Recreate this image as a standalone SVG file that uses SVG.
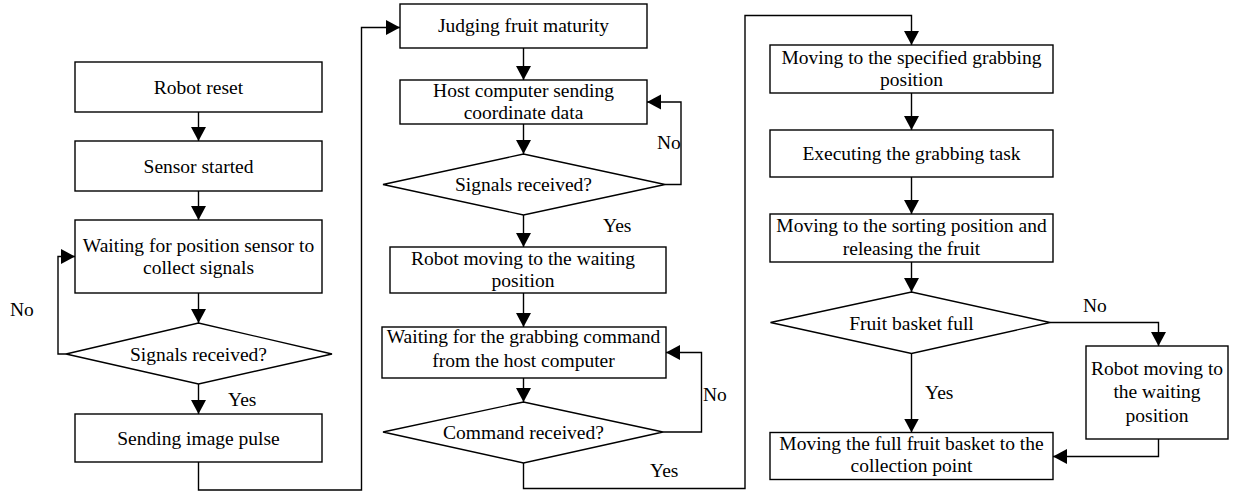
<svg xmlns="http://www.w3.org/2000/svg" width="1237" height="495" viewBox="0 0 1237 495">
  <style>
    .box { fill: #ffffff; stroke: #000000; stroke-width: 1.4; }
    .wire { fill: none; stroke: #000000; stroke-width: 1.4; }
    text { font-family: "Liberation Serif", "Times New Roman", serif; font-size: 19.5px; fill: #000000; }
    .c { text-anchor: middle; }
  </style>
  <defs>
    <marker id="arrow" markerUnits="userSpaceOnUse" markerWidth="15" markerHeight="16" refX="14" refY="7.5" orient="auto">
      <path d="M0,0 L14,7.5 L0,15 z" fill="#000000"/>
    </marker>
  </defs>
  <rect width="1237" height="495" fill="#ffffff"/>

  <!-- connectors -->
  <g id="connectors">
    <!-- left column -->
    <path class="wire" d="M198.5,112 V141" marker-end="url(#arrow)"/>
    <path class="wire" d="M198.5,191 V220" marker-end="url(#arrow)"/>
    <path class="wire" d="M198.5,293 V323" marker-end="url(#arrow)"/>
    <path class="wire" d="M198.5,384 V414" marker-end="url(#arrow)"/>
    <path class="wire" d="M66,354 H58 V256.5 H75" marker-end="url(#arrow)"/>
    <path class="wire" d="M198.5,462 V490 H361.5 V27.5 H400" marker-end="url(#arrow)"/>
    <!-- middle column -->
    <path class="wire" d="M523.5,48 V80" marker-end="url(#arrow)"/>
    <path class="wire" d="M523.5,124 V154" marker-end="url(#arrow)"/>
    <path class="wire" d="M665,184.5 H681 V102 H647" marker-end="url(#arrow)"/>
    <path class="wire" d="M523.5,215 V247" marker-end="url(#arrow)"/>
    <path class="wire" d="M523.5,293 V327" marker-end="url(#arrow)"/>
    <path class="wire" d="M523.5,378 V402" marker-end="url(#arrow)"/>
    <path class="wire" d="M663,432 H701.5 V352.5 H666" marker-end="url(#arrow)"/>
    <path class="wire" d="M523.5,463 V488.5 H745 V15.5 H911.5 V45" marker-end="url(#arrow)"/>
    <!-- right column -->
    <path class="wire" d="M911.5,93 V130" marker-end="url(#arrow)"/>
    <path class="wire" d="M911.5,177 V214" marker-end="url(#arrow)"/>
    <path class="wire" d="M911.5,262 V292" marker-end="url(#arrow)"/>
    <path class="wire" d="M911.5,353.5 V432.5" marker-end="url(#arrow)"/>
    <path class="wire" d="M1050,322.5 H1158.5 V346" marker-end="url(#arrow)"/>
    <path class="wire" d="M1158.5,439 V456.5 H1053" marker-end="url(#arrow)"/>

    <!-- branch labels -->
    <text x="10" y="316">No</text>
    <text x="228" y="406">Yes</text>
    <text x="657" y="149">No</text>
    <text x="603" y="232">Yes</text>
    <text x="703" y="401">No</text>
    <text x="650" y="477">Yes</text>
    <text x="1083" y="312">No</text>
    <text x="925" y="399">Yes</text>
  </g>

  <!-- left column -->
  <g id="robot-reset">
    <rect class="box" x="75" y="62" width="247" height="50"/>
    <text class="c" x="198.5" y="93.5">Robot reset</text>
  </g>
  <g id="sensor-started">
    <rect class="box" x="75" y="141" width="247" height="50"/>
    <text class="c" x="198.5" y="172.5">Sensor started</text>
  </g>
  <g id="wait-position-sensor">
    <rect class="box" x="75" y="220" width="247" height="73"/>
    <text class="c" x="198.5" y="251.5">Waiting for position sensor to</text>
    <text class="c" x="198.5" y="273.5">collect signals</text>
  </g>
  <g id="signals-received-1">
    <polygon class="box" points="66,354 198.5,323 332,354 198.5,384"/>
    <text class="c" x="198.5" y="360.5">Signals received?</text>
  </g>
  <g id="send-image-pulse">
    <rect class="box" x="75" y="414" width="247" height="48"/>
    <text class="c" x="198.5" y="444.5">Sending image pulse</text>
  </g>

  <!-- middle column -->
  <g id="judge-maturity">
    <rect class="box" x="400" y="4" width="247" height="44"/>
    <text class="c" x="523.5" y="32">Judging fruit maturity</text>
  </g>
  <g id="host-send-coords">
    <rect class="box" x="400" y="80" width="247" height="44"/>
    <text class="c" x="523.5" y="96.5">Host computer sending</text>
    <text class="c" x="523.5" y="118.5">coordinate data</text>
  </g>
  <g id="signals-received-2">
    <polygon class="box" points="383,184.5 523.5,154 665,184.5 523.5,215"/>
    <text class="c" x="523.5" y="191">Signals received?</text>
  </g>
  <g id="move-to-wait-1">
    <rect class="box" x="390" y="247" width="276" height="46"/>
    <text class="c" x="523" y="265">Robot moving to the waiting</text>
    <text class="c" x="523" y="287">position</text>
  </g>
  <g id="wait-grab-command">
    <rect class="box" x="382" y="327" width="284" height="51"/>
    <text class="c" x="523.5" y="343">Waiting for the grabbing command</text>
    <text class="c" x="523.5" y="366.5">from the host computer</text>
  </g>
  <g id="command-received">
    <polygon class="box" points="383,432 523.5,402 663,432 523.5,463"/>
    <text class="c" x="523.5" y="439">Command received?</text>
  </g>

  <!-- right column -->
  <g id="move-to-grab">
    <rect class="box" x="770" y="45" width="283" height="48"/>
    <text class="c" x="911.5" y="63.5">Moving to the specified grabbing</text>
    <text class="c" x="911.5" y="85.5">position</text>
  </g>
  <g id="execute-grab">
    <rect class="box" x="770" y="130" width="283" height="47"/>
    <text class="c" x="911.5" y="160">Executing the grabbing task</text>
  </g>
  <g id="sort-release">
    <rect class="box" x="770" y="214" width="283" height="48"/>
    <text class="c" x="911.5" y="232">Moving to the sorting position and</text>
    <text class="c" x="911.5" y="254.5">releasing the fruit</text>
  </g>
  <g id="basket-full">
    <polygon class="box" points="770.5,322.5 911.5,292 1050,322.5 911.5,353.5"/>
    <text class="c" x="911.5" y="329.5">Fruit basket full</text>
  </g>
  <g id="move-to-wait-2">
    <rect class="box" x="1086" y="346" width="142" height="93"/>
    <text class="c" x="1157" y="375">Robot moving to</text>
    <text class="c" x="1157" y="398">the waiting</text>
    <text class="c" x="1157" y="421.5">position</text>
  </g>
  <g id="move-basket">
    <rect class="box" x="770" y="432.5" width="283" height="47"/>
    <text class="c" x="911.5" y="450">Moving the full fruit basket to the</text>
    <text class="c" x="911.5" y="472">collection point</text>
  </g>
</svg>
